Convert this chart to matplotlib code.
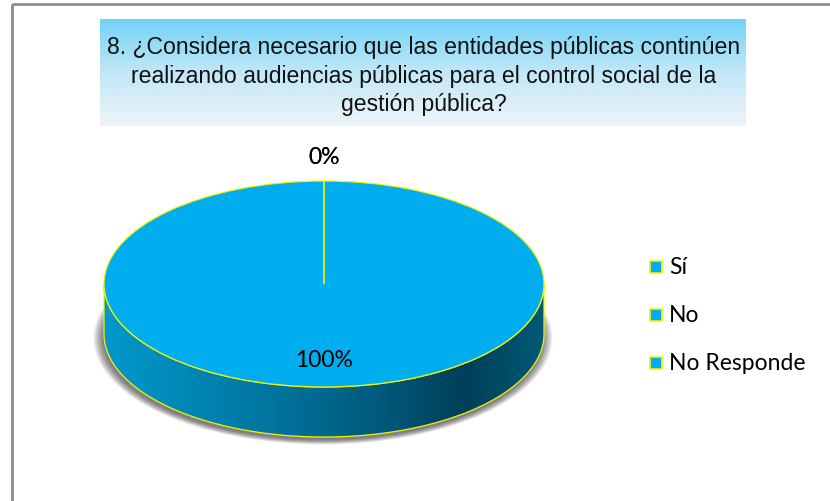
import numpy as np
import matplotlib.pyplot as plt
from matplotlib.patches import Rectangle, Ellipse, Polygon
from matplotlib.colors import LinearSegmentedColormap

# data
categories = ["Sí", "No", "No Responde"]
values = [100, 0, 0]
pct_labels = ["100%", "0%", "0%"]
title = ("8. ¿Considera necesario que las entidades públicas continúen\n"
         "realizando audiencias públicas para el control social de la\n"
         "gestión pública?")

top_color = "#00aeef"
edge_color = "#f2f200"

W, H = 830, 502
fig = plt.figure(figsize=(W / 100, H / 100), dpi=100)

# background frame + title box in pixel space
bg = fig.add_axes([0, 0, 1, 1])
bg.set_xlim(0, W)
bg.set_ylim(H, 0)
bg.axis("off")
bg.add_patch(Rectangle((12, 5), 830, 520, fill=False, edgecolor="#8c8c8c", linewidth=2))
grad = np.linspace(0, 1, 256).reshape(-1, 1)
title_cmap = LinearSegmentedColormap.from_list("t", ["#72d2f6", "#c2e8f8", "#eef3f8"])
bg.imshow(grad, cmap=title_cmap, extent=(100, 745, 127, 20), aspect="auto", zorder=1)
bg.text(424, 76, title, ha="center", va="center", fontsize=16.6, linespacing=1.33,
        family=["Liberation Sans Narrow", "Liberation Sans"], color="#111111", zorder=2)

# pie axes: full figure, data units chosen so radius 1 -> 220 px wide, 103 px tall
cx, cy, rx, ry = 324, 285, 220, 103
depth = 50 / ry
ax = fig.add_axes([0, 0, 1, 1])
wedges, _ = ax.pie(values, colors=[top_color] * len(values), startangle=90,
                   counterclock=False, radius=1, center=(0, 0),
                   wedgeprops=dict(edgecolor=edge_color, linewidth=0.9))
for w in wedges:
    w.set_zorder(5)
ax.set_aspect("auto")
ax.set_xlim(-cx / rx, (W - cx) / rx)
ax.set_ylim(-(H - cy) / ry, cy / ry)
ax.axis("off")

# soft shadow under the side
for k in range(8):
    s = 1.0 + 0.006 * k
    ax.add_patch(Ellipse((-0.005, -depth - 0.04), 2 * s, 2 * s * 0.99,
                         facecolor="black", edgecolor="none", alpha=0.08, zorder=1))

# side wall with horizontal gradient
t = np.linspace(np.pi, 2 * np.pi, 200)
upper = np.column_stack([np.cos(t), np.sin(t)])
lower = np.column_stack([np.cos(t[::-1]), np.sin(t[::-1]) - depth])
side = Polygon(np.vstack([upper, lower]), closed=True, facecolor="none",
               edgecolor=edge_color, linewidth=0.9, zorder=3)
ax.add_patch(side)
side_cmap = LinearSegmentedColormap.from_list(
    "s", [(0, "#0098cc"), (0.35, "#0078a2"), (0.62, "#005a7c"), (0.82, "#003f58"), (1, "#005a78")])
img = ax.imshow(np.linspace(0, 1, 256).reshape(1, -1), cmap=side_cmap,
                extent=(-1, 1, -1 - depth, 0.1), aspect="auto", zorder=2)
img.set_clip_path(side)

# percentage labels at wedge mid-angles
for w, lab in zip(wedges, pct_labels):
    mid = np.deg2rad((w.theta1 + w.theta2) / 2)
    d = 0.73 if w.theta2 - w.theta1 > 180 else 1.24
    ax.text(d * np.cos(mid), d * np.sin(mid), lab, ha="center", va="center",
            fontsize=16.5, family=["Lato", "DejaVu Sans"], color="black", zorder=6)

# legend
for i, name in enumerate(categories):
    y = 268 + 48 * i
    bg.add_patch(Rectangle((650, y - 6), 12, 12, facecolor=top_color,
                           edgecolor=edge_color, linewidth=1.2, zorder=3))
    bg.text(669, y, name, ha="left", va="center", fontsize=16.5,
            family=["Lato", "DejaVu Sans"], color="black")

fig.savefig("out.png", dpi=100)
